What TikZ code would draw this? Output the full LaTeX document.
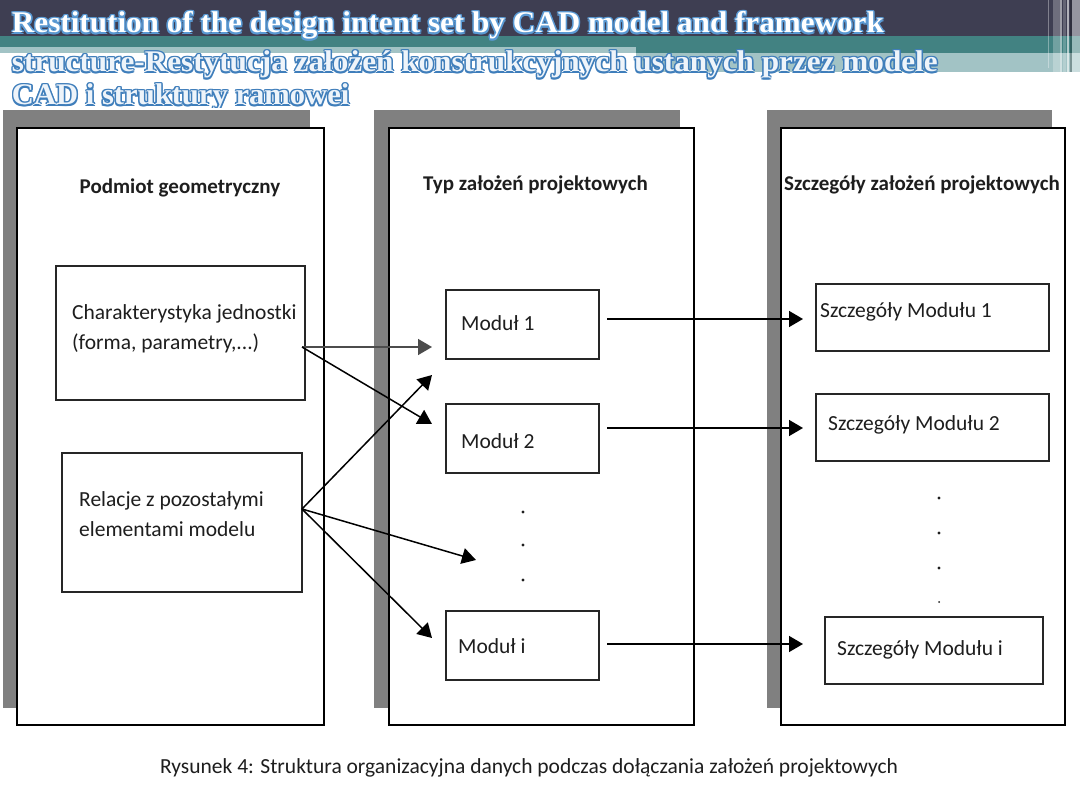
\documentclass[tikz,border=0pt]{standalone}
\usepackage{fontspec}
\setmainfont{Carlito}
\newfontfamily\titlefont{Liberation Serif}
\usetikzlibrary{arrows.meta,calc}
\definecolor{darkbar}{HTML}{3E3E52}
\definecolor{tealband}{HTML}{428282}
\definecolor{lightteal}{HTML}{A2C3C5}
\definecolor{shadowgray}{HTML}{808080}
\definecolor{glowblue}{HTML}{5A9AD4}
\definecolor{outlineblue}{HTML}{3F7EBB}
\definecolor{paleblue}{HTML}{EEF4FA}
\definecolor{inktext}{HTML}{1E1E1E}
\tikzset{
  glowtxt/.style={anchor=base west, inner sep=0pt, outer sep=0pt,
    font=\titlefont\bfseries\fontsize{30}{30}\selectfont},
  shadowbox/.style={fill=shadowgray, draw=none, inner sep=0pt, outer sep=0pt},
  colbox/.style={draw=black, line width=1.2pt, fill=white, inner sep=0pt, outer sep=0pt},
  inbox/.style={draw=black!85, line width=1.3pt, fill=white, inner sep=0pt, outer sep=0pt},
  head/.style={font=\bfseries\fontsize{21}{25}\selectfont, inner sep=0pt, text=inktext},
  lbl/.style={font=\fontsize{21.5}{30}\selectfont, inner sep=0pt, anchor=west, align=left, text=inktext},
  arr/.style={line width=1.5pt, -{Triangle[length=14pt,width=16pt]}},
  dotmark/.style={fill=inktext, draw=none},
}
\newcommand{\glowline}[7]{%
  \foreach \dx/\dy [count=\k] in {1.5/0,-1.5/0,0/1.5,0/-1.5,1.1/1.1,1.1/-1.1,-1.1/1.1,-1.1/-1.1}{
    \node[glowtxt, text=#5] (#1g\k) at (#2+\dx,#3+\dy) {\scalebox{#7}[1]{#4}};
  }
  \node[glowtxt, text=#6] (#1) at (#2,#3) {\scalebox{#7}[1]{#4}};
}
\begin{document}
\begin{tikzpicture}[x=1pt,y=-1pt]
\useasboundingbox (0,0) rectangle (1080,810);
\fill[white] (0,0) rectangle (1080,810);
% title bands
\fill[darkbar] (0,0) rectangle (1080,36);
\fill[tealband] (0,36) rectangle (1080,53);
\fill[lightteal] (0,47) rectangle (636,53);
\fill[lightteal] (636,53) rectangle (1080,72);
% right decoration stripes
\fill[white, opacity=0.35] (1047.5,0) rectangle (1049,68);
\fill[white, opacity=0.25] (1053,0) rectangle (1060,72);
\fill[white, opacity=0.5] (1060,0) rectangle (1062,72);
\fill[white, opacity=0.2] (1063,0) rectangle (1066,72);
\fill[white, opacity=0.6] (1067,0) rectangle (1068.5,72);
\fill[black, opacity=0.25] (1070,0) rectangle (1072,72);
\fill[white, opacity=0.45] (1072,0) rectangle (1080,72);
% title text
\begin{scope}
\clip (0,0) rectangle (1080,108);
\glowline{tl1}{12}{33}{Restitution of the design intent set by CAD model and framework}{glowblue}{white}{1.038}
\glowline{tl2}{12}{72}{structure-Restytucja założeń konstrukcyjnych ustanych przez modele}{outlineblue}{paleblue}{1.04}
\glowline{tl3}{12}{105}{CAD i struktury ramowei}{outlineblue}{paleblue}{1.02}
\end{scope}
% column shadows and boxes
\node[shadowbox, minimum width=307pt, minimum height=598pt] (s1) at (156.5,409) {};
\node[shadowbox, minimum width=306pt, minimum height=598pt] (s2) at (527,409) {};
\node[shadowbox, minimum width=285pt, minimum height=598pt] (s3) at (909.5,409) {};
\node[colbox, minimum width=307pt, minimum height=597pt] (c1) at (170.5,426.5) {};
\node[colbox, minimum width=305pt, minimum height=597pt] (c2) at (541.5,426.5) {};
\node[colbox, minimum width=284pt, minimum height=597pt] (c3) at (923,426.5) {};
% headings
\node[head] (h1) at (180,188) {Podmiot geometryczny};
\node[head] (h2) at (535.5,185) {Typ założeń projektowych};
\node[head] (h3) at (922,185) {Szczegóły założeń projektowych};
% inner boxes
\node[inbox, minimum width=249pt, minimum height=134pt] (ba) at (180.5,333) {};
\node[inbox, minimum width=240pt, minimum height=139pt] (bb) at (182,522.5) {};
\node[inbox, minimum width=153pt, minimum height=69pt] (m1) at (522.5,324.5) {};
\node[inbox, minimum width=153pt, minimum height=69pt] (m2) at (522.5,438.5) {};
\node[inbox, minimum width=153pt, minimum height=69pt] (mi) at (522.5,645.5) {};
\node[inbox, minimum width=233pt, minimum height=67pt] (d1) at (932.5,317.5) {};
\node[inbox, minimum width=233pt, minimum height=67pt] (d2) at (932.5,427.5) {};
\node[inbox, minimum width=218pt, minimum height=67pt] (di) at (934,650.5) {};
% labels
\node[lbl] (la) at (72,329) {Charakterystyka jednostki\\(forma, parametry,...)};
\node[lbl] (lb) at (79,514) {Relacje z pozostałymi\\elementami modelu};
\node[lbl] (lm1) at (461,323) {Moduł 1};
\node[lbl] (lm2) at (461,441) {Moduł 2};
\node[lbl] (lmi) at (458,646) {Moduł i};
\node[lbl] (ld1) at (820,312) {Szczegóły Modułu 1};
\node[lbl] (ld2) at (828,425) {Szczegóły Modułu 2};
\node[lbl] (ldi) at (837,650) {Szczegóły Modułu i};
% dots
\fill[dotmark] (523,512) circle (1.6);
\fill[dotmark] (523,545) circle (1.6);
\fill[dotmark] (523,580) circle (1.6);
\fill[dotmark] (939,498) circle (1.6);
\fill[dotmark] (939,533) circle (1.6);
\fill[dotmark] (939,568) circle (1.6);
\fill[dotmark] (939,602) circle (1.0);
% connector coordinates
\coordinate (aout) at (302,347);
\coordinate (bout) at (302,509);
\coordinate (ta1) at (432,347);
\coordinate (ta2) at (432,424);
\coordinate (tb1) at (432,375);
\coordinate (tb2) at (476,560);
\coordinate (tb3) at (432,638);
\coordinate (m1out) at (607,319);
\coordinate (m2out) at (607,428);
\coordinate (miout) at (607,644);
\coordinate (d1in) at (803,319);
\coordinate (d2in) at (803,428);
\coordinate (diin) at (803,644);
% arrows
\draw[arr, draw=black!70, fill=black] (aout) -- (ta1);
\draw[arr] (aout) -- (ta2);
\draw[arr] (bout) -- (tb1);
\draw[arr] (bout) -- (tb2);
\draw[arr] (bout) -- (tb3);
\draw[arr] (m1out) -- (d1in);
\draw[arr] (m2out) -- (d2in);
\draw[arr] (miout) -- (diin);
% caption
\node[font=\fontsize{21.5}{25}\selectfont, inner sep=0pt, text=inktext] (cap) at (529,768) {Rysunek 4: Struktura organizacyjna danych podczas dołączania założeń projektowych};
\end{tikzpicture}
\end{document}
